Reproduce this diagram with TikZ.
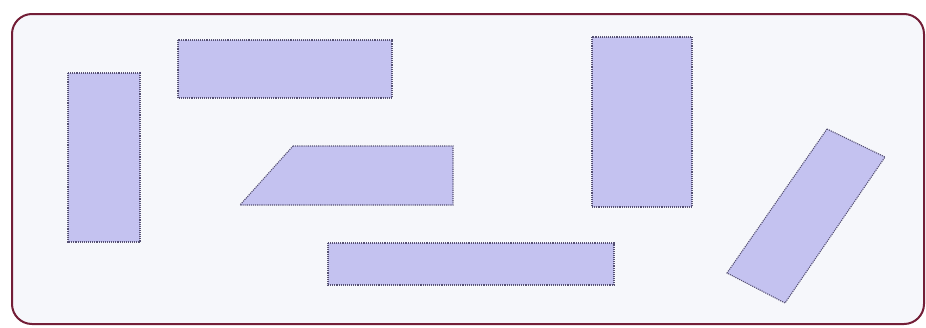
\documentclass[tikz,border=0pt]{standalone}
\begin{document}
\begin{tikzpicture}[x=1pt,y=-1pt,
  piece/.style={fill=lav, draw=edge, line width=1.1pt, densely dotted},
  frame/.style={draw=maroon, line width=2pt, rounded corners=20pt, fill=paper}]
\definecolor{lav}{RGB}{196,194,240}
\definecolor{edge}{RGB}{85,80,115}
\definecolor{maroon}{RGB}{115,30,55}
\definecolor{paper}{RGB}{246,247,251}
\useasboundingbox (0,0) rectangle (926,327);
\fill[white] (0,0) rectangle (926,327);
\draw[frame] (12,14) rectangle (924,324);
% left vertical
\draw[piece] (68,73) rectangle (140,242);
% top horizontal
\draw[piece] (178,40) rectangle (392,98);
% trapezoid
\draw[piece] (293,146) -- (453,146) -- (453,205) -- (240,205) -- cycle;
% bottom horizontal
\draw[piece] (328,243) rectangle (614,285);
% right vertical
\draw[piece] (592,37) rectangle (692,207);
% tilted
\draw[piece] (827,129) -- (885,157) -- (785,303) -- (727,273) -- cycle;
\end{tikzpicture}
\end{document}
